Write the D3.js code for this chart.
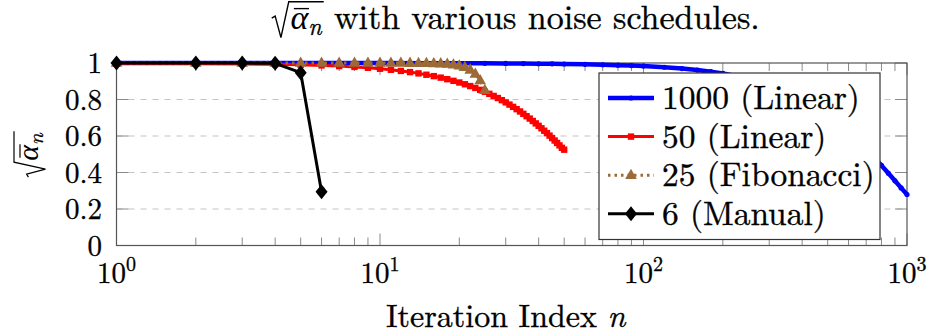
<!DOCTYPE html>
<html lang="en">
<head>
<meta charset="utf-8">
<title>sqrt alpha bar with various noise schedules</title>
<script src="https://d3js.org/d3.v7.min.js"></script>
<style>
  body { margin: 0; background: #fff; }
</style>
</head>
<body>
<svg id="chart" width="931" height="336"></svg>
<script>
// values (sqrt of alpha-bar per iteration index n)
// 1000-step schedule is sampled: past n~30 the marks merge into one thick line anyway
const linear1000N = [1, 2, 3, 5, 7, 10, 15, 20, 25, 30, 35, 40, 45, 50, 60, 70, 80, 90, 100, 120, 140, 160, 180, 200,
    250, 300, 350, 400, 450, 500, 550, 600, 650, 700, 750, 800, 850, 900, 950, 1000];
const linear1000 = [1.000, 0.9999, 0.9998, 0.9997, 0.9996, 0.9994, 0.9990, 0.9985, 0.9980, 0.9974, 0.9968, 0.9960,
    0.9953, 0.9945, 0.9926, 0.9905, 0.9882, 0.9857, 0.9829, 0.9766, 0.9695, 0.9614, 0.9525, 0.9427,
    0.9148, 0.8823, 0.8457, 0.8057, 0.7629, 0.7181, 0.6716, 0.6244, 0.5769, 0.5298, 0.4836, 0.4387,
    0.3955, 0.3544, 0.3157, 0.2794];
const linear50 = [0.9990, 0.9975, 0.9955, 0.9931, 0.9902, 0.9867, 0.9829, 0.9785, 0.9737, 0.9685,
    0.9628, 0.9566, 0.9501, 0.9431, 0.9357, 0.9280, 0.9198, 0.9112, 0.9023, 0.8931,
    0.8835, 0.8736, 0.8634, 0.8528, 0.8420, 0.8310, 0.8196, 0.8080, 0.7962, 0.7842,
    0.7720, 0.7596, 0.7471, 0.7344, 0.7215, 0.7085, 0.6955, 0.6823, 0.6690, 0.6557,
    0.6423, 0.6289, 0.6155, 0.6021, 0.5887, 0.5752, 0.5619, 0.5485, 0.5353, 0.5250];
const fib25 = [1.000, 1.000, 1.000, 1.000, 0.9999, 0.9999, 0.9999, 0.9999, 0.9999, 0.9999,
    0.9998, 0.9997, 0.9995, 0.9992, 0.9987, 0.9979, 0.9966, 0.9944, 0.9910, 0.9855,
    0.9766, 0.9625, 0.9400, 0.9047, 0.8503];
const manual6 = [1.000, 1.000, 1.000, 0.998, 0.947, 0.295];

const seriesNames = ["1000 (Linear)", "50 (Linear)", "25 (Fibonacci)", "6 (Manual)"];
const xTickExponents = [0, 1, 2, 3];
const yTickValues = [0, 0.2, 0.4, 0.6, 0.8, 1];

// the renderer only takes a single family name, so set it on every text
const FONT = "Latin Modern Roman";
const GREEK = "Liberation Serif"; // LM Roman has no alpha
const svg = d3.select("#chart");
const padL = 116.5, padR = 907, padT = 63, padB = 245.5;

const x = d3.scaleLog().domain([1, 1000]).range([padL, padR]);
const y = d3.scaleLinear().domain([0, 1]).range([padB, padT]);

const blue = "#0000ff", red = "#ff0000", brown = "#9c6a36", black = "#000000";

// thin outline so the LM glyphs look as dense as the rasterised pdf
const ink = sel => sel.attr("font-family", FONT).attr("fill", "#000")
    .attr("stroke", "#000").attr("stroke-width", 0.35);

// gridlines (y only, dashed)
svg.append("g").selectAll("line")
    .data(yTickValues.filter(v => v > 0 && v < 1))
    .join("line")
    .attr("x1", padL).attr("x2", padR)
    .attr("y1", d => y(d)).attr("y2", d => y(d))
    .attr("stroke", "#c4c4c4").attr("stroke-width", 1.2)
    .attr("stroke-dasharray", "6,6");

// ticks, all inward, mirrored on opposite sides
const isMajor = d => Math.abs(Math.log10(d) - Math.round(Math.log10(d))) < 1e-9;
const tickG = svg.append("g").attr("stroke", "#8a8a8a").attr("stroke-width", 1);
x.ticks().forEach(d => {
    const len = isMajor(d) ? 12 : 8;
    tickG.append("line").attr("x1", x(d)).attr("x2", x(d)).attr("y1", padB).attr("y2", padB - len);
    tickG.append("line").attr("x1", x(d)).attr("x2", x(d)).attr("y1", padT).attr("y2", padT + len);
});
yTickValues.forEach(d => {
    tickG.append("line").attr("x1", padL).attr("x2", padL + 12).attr("y1", y(d)).attr("y2", y(d));
    tickG.append("line").attr("x1", padR).attr("x2", padR - 12).attr("y1", y(d)).attr("y2", y(d));
});

// frame
svg.append("rect")
    .attr("x", padL).attr("y", padT)
    .attr("width", padR - padL).attr("height", padB - padT)
    .attr("fill", "none").attr("stroke", "#555").attr("stroke-width", 1.2);

// tick labels
svg.append("g").selectAll("text")
    .data(yTickValues)
    .join("text")
    .call(ink)
    .attr("x", 102).attr("y", d => y(d) + 10)
    .attr("text-anchor", "end")
    .attr("font-size", 29)
    .text(d => d3.format("~g")(d));

const xl = svg.append("g").selectAll("text")
    .data(xTickExponents)
    .join("text")
    .call(ink)
    .attr("x", d => x(Math.pow(10, d))).attr("y", 283)
    .attr("text-anchor", "middle")
    .attr("font-size", 29);
xl.append("tspan").attr("font-family", FONT).text("10");
xl.append("tspan").attr("font-family", FONT).attr("dy", -12).attr("font-size", 20).text(d => d);

// markers
const triangle = "M0,-6.5 L5.8,3.8 L-5.8,3.8 Z";
const diamond = "M0,-7.5 L6,0 L0,7.5 L-6,0 Z";

function drawSeries(ns, vals, opt) {
    const pts = vals.map((v, i) => [ns[i], v]);
    const line = d3.line().x(d => x(d[0])).y(d => y(d[1]));
    const g = svg.append("g");
    g.append("path")
        .datum(pts)
        .attr("d", line)
        .attr("fill", "none")
        .attr("stroke", opt.color)
        .attr("stroke-width", opt.width)
        .attr("stroke-dasharray", opt.dash || null)
        .attr("stroke-linejoin", "round");
    drawMarks(g, pts.map(p => [x(p[0]), y(p[1])]), opt);
}

function drawMarks(g, pos, opt) {
    if (opt.mark === "circle") {
        g.selectAll("circle").data(pos).join("circle")
            .attr("cx", d => d[0]).attr("cy", d => d[1]).attr("r", 2.6)
            .attr("fill", opt.color);
    } else if (opt.mark === "square") {
        g.selectAll("rect").data(pos).join("rect")
            .attr("x", d => d[0] - 3.2).attr("y", d => d[1] - 3.2)
            .attr("width", 6.4).attr("height", 6.4)
            .attr("fill", opt.color);
    } else {
        g.selectAll("path.mk").data(pos).join("path")
            .attr("class", "mk")
            .attr("transform", d => `translate(${d[0]},${d[1]})`)
            .attr("d", opt.mark === "triangle" ? triangle : diamond)
            .attr("fill", opt.color);
    }
}

const idx = arr => arr.map((_, i) => i + 1);
const opts = [
    { color: blue, width: 4.5, mark: "circle" },
    { color: red, width: 3, mark: "square" },
    { color: brown, width: 3, mark: "triangle", dash: "2.5,4" },
    { color: black, width: 3, mark: "diamond" }
];

drawSeries(linear1000N, linear1000, opts[0]);
drawSeries(idx(linear50), linear50, opts[1]);
drawSeries(idx(fib25), fib25, opts[2]);
drawSeries(idx(manual6), manual6, opts[3]);

// legend
const lg = svg.append("g");
lg.append("rect")
    .attr("x", 599).attr("y", 73).attr("width", 281).attr("height", 166.5)
    .attr("fill", "#fff").attr("stroke", "#333").attr("stroke-width", 1.2);
seriesNames.forEach((name, i) => {
    const ly = 98 + i * 38.6;
    lg.append("line")
        .attr("x1", 608).attr("x2", 654).attr("y1", ly).attr("y2", ly)
        .attr("stroke", opts[i].color).attr("stroke-width", opts[i].width)
        .attr("stroke-dasharray", opts[i].dash || null);
    drawMarks(lg.append("g"), [[631, ly]], opts[i]);
    lg.append("text")
        .call(ink)
        .attr("x", 662).attr("y", ly + 11)
        .attr("font-size", 33.5)
        .text(name);
});

// sqrt(alpha-bar_n) built from a text alpha, a subscript and a drawn radical
function sqrtAlphaBar(g, fs) {
    const ax = 0.55 * fs;
    const a = g.append("text").attr("font-family", GREEK).attr("fill", "#000")
        .attr("x", ax).attr("y", 0)
        .attr("font-size", fs).attr("font-style", "italic").text("α");
    const aw = a.node().getComputedTextLength();
    const s = g.append("text").call(ink).attr("x", ax + aw).attr("y", 0.18 * fs)
        .attr("font-size", 0.7 * fs).attr("font-style", "italic").text("n");
    const nw = s.node().getComputedTextLength();
    const end = ax + aw + nw + 0.06 * fs;
    g.append("line")
        .attr("x1", ax + 0.1 * fs).attr("x2", ax + aw + 0.02 * fs)
        .attr("y1", -0.6 * fs).attr("y2", -0.6 * fs)
        .attr("stroke", "#000").attr("stroke-width", 0.04 * fs);
    g.append("path")
        .attr("d", `M0,${-0.32 * fs} L${0.1 * fs},${-0.38 * fs} L${0.27 * fs},${0.25 * fs} L${0.5 * fs},${-0.8 * fs} H${end}`)
        .attr("fill", "none").attr("stroke", "#000").attr("stroke-width", 0.04 * fs)
        .attr("stroke-linejoin", "miter");
    return end;
}

// title
const tfs = 34;
const tg = svg.append("g");
const sw = sqrtAlphaBar(tg, tfs);
const tt = tg.append("text").call(ink).attr("x", sw + 0.3 * tfs).attr("y", 0)
    .attr("font-size", tfs)
    .text("with various noise schedules.");
const tw = sw + 0.3 * tfs + tt.node().getComputedTextLength();
tg.attr("transform", `translate(${(padL + padR) / 2 + 4 - tw / 2},29)`);

// y label
const yfs = 30;
const yg = svg.append("g");
const yInner = yg.append("g");
const yw = sqrtAlphaBar(yInner, yfs);
yInner.attr("transform", `translate(${-yw / 2},0)`);
yg.attr("transform", `translate(38,${(padT + padB) / 2}) rotate(-90)`);

// x label
const xt = svg.append("text")
    .call(ink)
    .attr("x", (padL + padR) / 2 - 6).attr("y", 327)
    .attr("text-anchor", "middle")
    .attr("font-size", 32);
xt.append("tspan").attr("font-family", FONT).text("Iteration Index ");
xt.append("tspan").attr("font-family", FONT).attr("font-style", "italic").text("n");
</script>
</body>
</html>
